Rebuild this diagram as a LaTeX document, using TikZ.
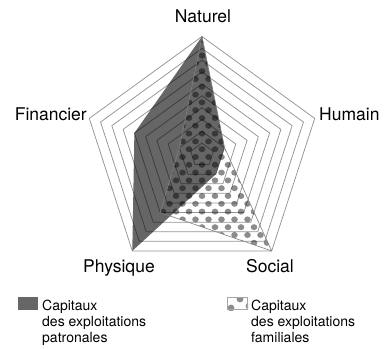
\documentclass[tikz,border=0pt]{standalone}
\usepackage{fontspec}
\setmainfont{TeX Gyre Heros}
\usetikzlibrary{calc}
\tikzset{
  gridline/.style={draw=black!42, line width=0.75pt},
  axislabel/.style={inner sep=0pt, font=\fontsize{17.5}{20}\selectfont},
  legtext/.style={inner sep=0pt, anchor=base west, font=\fontsize{14}{16}\selectfont},
  patfill/.style={fill=black, fill opacity=0.6},
  famline/.style={draw=black!50, line width=0.6pt},
  dotfill/.style={fill=black, fill opacity=0.45},
}
\begin{document}
\begin{tikzpicture}[x=1pt,y=-1pt]
\useasboundingbox (0,0) rectangle (387,348);
\coordinate (C) at (202,155);
\coordinate (N) at ($(C)+(0,-118.5)$);
\coordinate (H) at ($(C)+(112.7,-36.6)$);
\coordinate (S) at ($(C)+(69.7,95.9)$);
\coordinate (P) at ($(C)+(-69.7,95.9)$);
\coordinate (F) at ($(C)+(-112.7,-36.6)$);
% grid
\foreach \k in {1,...,10}{
  \pgfmathsetmacro{\f}{\k/10}
  \draw[gridline] ($(C)!\f!(N)$) -- ($(C)!\f!(H)$) -- ($(C)!\f!(S)$) -- ($(C)!\f!(P)$) -- ($(C)!\f!(F)$) -- cycle;
}
% patronal
\coordinate (pN) at (N);
\coordinate (pH) at ($(C)!0.2!(H)$);
\coordinate (pS) at ($(C)!0.2!(S)$);
\coordinate (pP) at (P);
\coordinate (pF) at ($(C)!0.6!(F)$);
\path[patfill] (pN) -- (pH) -- (pS) -- (pP) -- (pF) -- cycle;
% familial
\coordinate (fN) at (N);
\coordinate (fH) at ($(C)!0.2!(H)$);
\coordinate (fS) at (S);
\coordinate (fP) at ($(C)!0.6!(P)$);
\coordinate (fF) at ($(C)!0.2!(F)$);
\begin{scope}
  \clip (fN) -- (fH) -- (fS) -- (fP) -- (fF) -- cycle;
  \foreach \j in {0,...,28}{
    \foreach \i in {0,...,10}{
      \pgfmathsetmacro{\xx}{150+13*\i+6.5*mod(\j,2)}
      \pgfmathsetmacro{\yy}{40+7.8*\j}
      \fill[dotfill] (\xx,\yy) ellipse[x radius=3.3, y radius=3.0];
    }
  }
\end{scope}
\draw[famline] (fN) -- (fH) -- (fS) -- (fP) -- (fF) -- cycle;
% axis labels
\node[axislabel, anchor=base] (lN) at (203,22) {Naturel};
\node[axislabel, anchor=base east] (lF) at (87,120) {Financier};
\node[axislabel, anchor=base west] (lH) at (319,120) {Humain};
\node[axislabel, anchor=base] (lP) at (119,272) {Physique};
\node[axislabel, anchor=base] (lS) at (270,272) {Social};
% legend
\fill[black!60] (18,297) rectangle (38,310);
\node[legtext] (a1) at (42,310) {Capitaux};
\node[legtext] (a2) at (42,326.5) {des exploitations};
\node[legtext] (a3) at (42,342) {patronales};
\begin{scope}
  \clip (227,297) rectangle (248,310);
  \fill[dotfill] (231,308) circle[radius=3.4];
  \fill[dotfill] (240,299) circle[radius=3.4];
  \fill[dotfill] (249,306) circle[radius=3.4];
\end{scope}
\draw[black!35, line width=0.6pt] (227.3,297.3) rectangle (247.7,309.7);
\node[legtext] (b1) at (251,310) {Capitaux};
\node[legtext] (b2) at (251,326.5) {des exploitations};
\node[legtext] (b3) at (251,342) {familiales};
\end{tikzpicture}
\end{document}
